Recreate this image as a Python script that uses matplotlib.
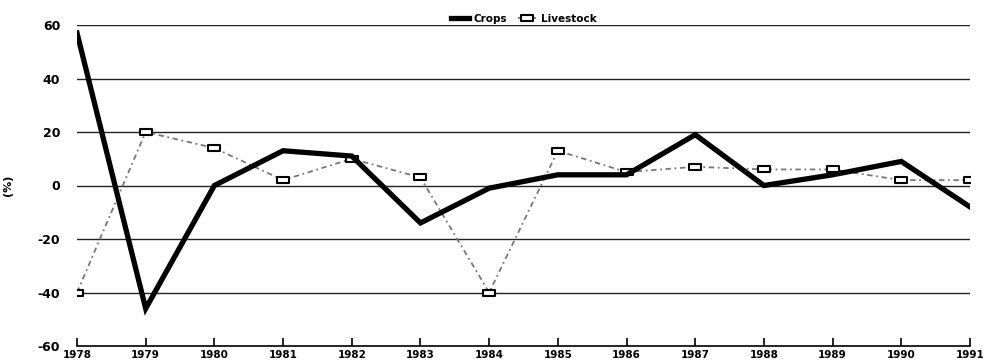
import matplotlib.pyplot as plt
from matplotlib.path import Path

years = list(range(1978, 1992))
crops = [57, -46, 0, 13, 11, -14, -1, 4, 4, 19, 0, 4, 9, -8]
livestock = [-40, 20, 14, 2, 10, 3, -40, 13, 5, 7, 6, 6, 2, 2]
y_ticks = [-60, -40, -20, 0, 20, 40, 60]

# flat rectangle marker for the livestock points
rect = Path([(-1.7, -1), (1.7, -1), (1.7, 1), (-1.7, 1), (-1.7, -1)],
            [Path.MOVETO, Path.LINETO, Path.LINETO, Path.LINETO, Path.CLOSEPOLY])

plt.rcParams["font.family"] = "DejaVu Sans"
fig = plt.figure(figsize=(9.92, 3.64), dpi=100)
ax = fig.add_axes([77 / 992, 18 / 364, 893 / 992, 321 / 364])

for y in y_ticks[1:]:
    ax.axhline(y, color="#222222", linewidth=1.0, zorder=1)

ax.plot(years, livestock, color="#777777", linestyle=(0, (3, 2, 1, 2)), linewidth=1.3,
        marker=rect, markersize=8, markerfacecolor="white", markeredgecolor="black",
        markeredgewidth=1.5, label="Livestock", zorder=2)
ax.plot(years, crops, color="black", linewidth=3.8, solid_joinstyle="miter",
        label="Crops", zorder=3)

ax.set_xlim(1978, 1991)
ax.set_ylim(-60, 60)
ax.set_xticks(years)
ax.set_xticklabels([str(y) for y in years], fontsize=7.5, fontweight="bold")
ax.set_yticks(y_ticks)
ax.set_yticklabels([str(y) for y in y_ticks], fontsize=9, fontweight="bold")
ax.tick_params(axis="x", direction="in", length=6, width=1.2, pad=3)
ax.tick_params(axis="y", length=0, pad=12)
for side in ["top", "right", "left"]:
    ax.spines[side].set_visible(False)
ax.spines["bottom"].set_linewidth(1.2)
ax.set_ylabel("(%)", fontsize=8, fontweight="bold", labelpad=18)

handles, labels = ax.get_legend_handles_labels()
ax.legend(handles[::-1], labels[::-1], loc="lower center", bbox_to_anchor=(0.5, 0.99),
          ncol=2, frameon=False, prop={"weight": "bold", "size": 7.5},
          handlelength=1.8, columnspacing=1.0, handletextpad=0.4, borderaxespad=0)

fig.savefig("out.png", dpi=100)
